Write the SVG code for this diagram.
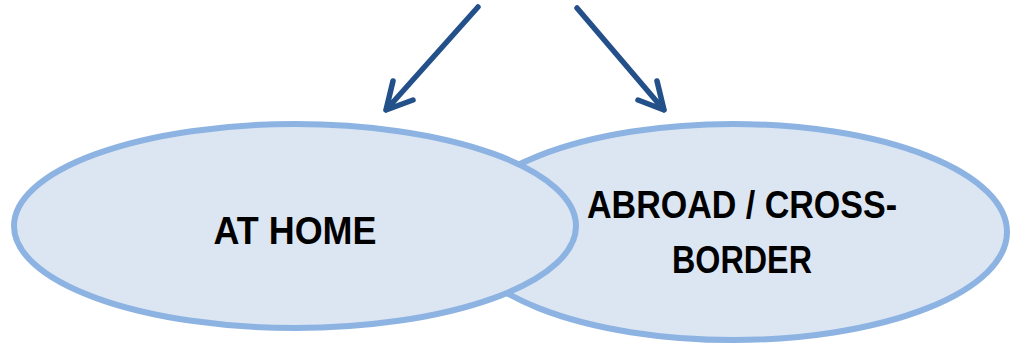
<svg xmlns="http://www.w3.org/2000/svg" width="1012" height="345" viewBox="0 0 1012 345">
<style>
.node{fill:#dce6f2;stroke:#8db3e2;stroke-width:6}
.lbl{font-family:"Liberation Sans",Arial,sans-serif;font-weight:bold;font-size:38px;fill:#000;text-anchor:middle}
.arr{stroke:#24508a;stroke-width:5.5;fill:none;stroke-linecap:round;stroke-linejoin:round}
</style>
<rect width="1012" height="345" fill="#fff"/>
<g id="abroad">
<ellipse class="node" cx="733" cy="232" rx="274" ry="108"/>
<text class="lbl" x="742" y="218" textLength="310" lengthAdjust="spacingAndGlyphs">ABROAD / CROSS-</text>
<text class="lbl" x="742" y="273" textLength="140" lengthAdjust="spacingAndGlyphs">BORDER</text>
</g>
<g id="athome">
<ellipse class="node" cx="295" cy="226" rx="281" ry="102"/>
<text class="lbl" x="295" y="244" textLength="163" lengthAdjust="spacingAndGlyphs">AT HOME</text>
</g>
<g id="connectors">
<path class="arr" d="M478,7 L386,110 M393,81 L386,110 L413,100"/>
<path class="arr" d="M577,8 L664,110 M657,81 L664,110 L638,100"/>
</g>
</svg>
